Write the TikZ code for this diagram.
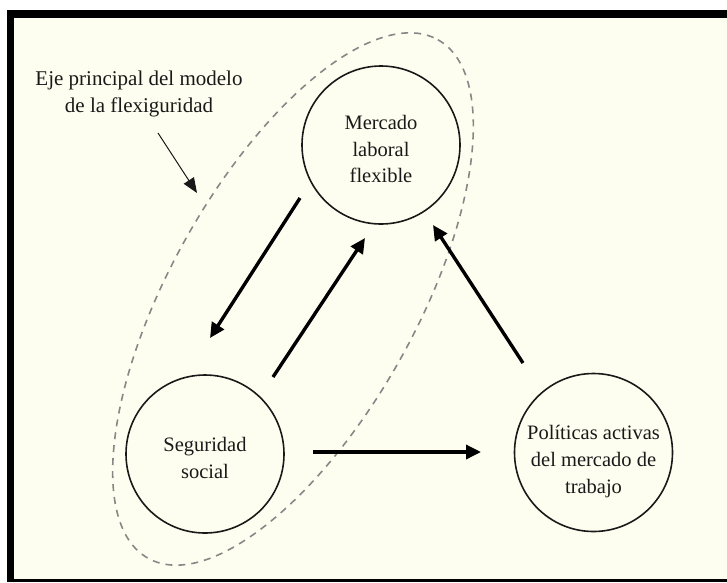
\documentclass[tikz,border=0pt]{standalone}
\usepackage{fontspec}
\setmainfont{Liberation Serif}
\usetikzlibrary{arrows.meta}
\definecolor{bgcream}{RGB}{254,254,240}
\definecolor{dashgray}{RGB}{135,135,135}
\definecolor{inkcol}{RGB}{25,25,25}
\begin{document}
\begin{tikzpicture}[x=1pt,y=-1pt,
  circnode/.style={circle, draw=inkcol, line width=1.6pt, minimum size=158pt, inner sep=0pt},
  circtext/.style={align=center, inner sep=0pt, font=\fontsize{20.5}{26.7}\selectfont, text=inkcol},
  annot/.style={align=center, font=\fontsize{21}{27}\selectfont, text=inkcol},
  bigarrow/.style={draw=black, line width=3.4pt, -{Triangle[length=15pt,width=14pt]}},
  thinarrow/.style={draw=inkcol, line width=1pt, -{Triangle[length=15pt,width=12pt]}},
  axisellipse/.style={draw=dashgray, line width=1.6pt, dash pattern=on 7pt off 6pt}
]
\useasboundingbox (0,0) rectangle (727,582);
\fill[black] (7,10) rectangle (727,582);
\fill[bgcream] (14,17.7) rectangle (727,579);

% dashed ellipse (main axis)
\draw[axisellipse, rotate around={60.8:(293,299)}] (293,299) ellipse [x radius=297, y radius=123];

% circles
\node[circnode, label={[circtext, yshift=-4pt]center:{Mercado\\laboral\\flexible}}] (merc) at (381,145) {};
\node[circnode, label={[circtext, yshift=-4pt]center:{Seguridad\\social}}] (seg) at (205,454) {};
\node[circnode, label={[circtext, yshift=-9pt]center:{Políticas activas\\del mercado de\\trabajo}}] (pol) at (593.5,452.5) {};

% annotation
\node[annot] (lab) at (139,93.5) {Eje principal del modelo\\de la flexiguridad};
\coordinate (labtail) at (158,133);
\coordinate (labtip) at (197,193);
\draw[thinarrow] (labtail) -- (labtip);

% arrows
\coordinate (a1s) at (300,198); \coordinate (a1e) at (210,338);
\coordinate (a2s) at (273,377); \coordinate (a2e) at (365,238);
\coordinate (a3s) at (523,363); \coordinate (a3e) at (433,225);
\coordinate (a4s) at (313,452); \coordinate (a4e) at (481,452);
\draw[bigarrow] (a1s) -- (a1e);
\draw[bigarrow] (a2s) -- (a2e);
\draw[bigarrow] (a3s) -- (a3e);
\draw[bigarrow] (a4s) -- (a4e);
\end{tikzpicture}
\end{document}
